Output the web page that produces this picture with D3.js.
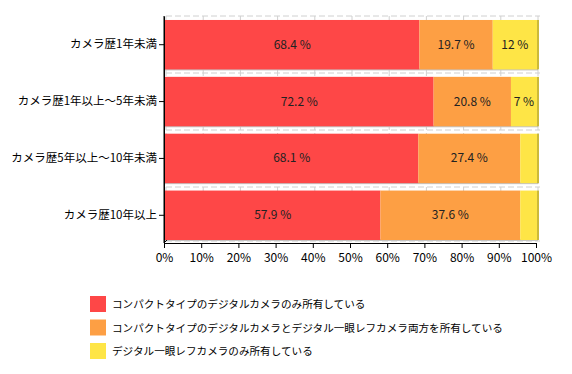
<!DOCTYPE html>
<html><head><meta charset="utf-8">
<script src="https://cdn.jsdelivr.net/npm/d3@7/dist/d3.min.js"></script>
<style>body{margin:0;background:#fff}svg{display:block}</style>
</head><body><svg id="c" width="572" height="374"></svg>
<script>
const categories = ["カメラ歴1年未満","カメラ歴1年以上～5年未満","カメラ歴5年以上～10年未満","カメラ歴10年以上"];
const seriesNames = ["コンパクトタイプのデジタルカメラのみ所有している","コンパクトタイプのデジタルカメラとデジタル一眼レフカメラ両方を所有している","デジタル一眼レフカメラのみ所有している"];
const compactOnly = [68.4, 72.2, 68.1, 57.9];
const both = [19.7, 20.8, 27.4, 37.6];
const slrOnly = [12, 7, 4.5, 4.5];
const tickValues = [0,10,20,30,40,50,60,70,80,90,100];
const colors = ["#fe4747","#fd9f44","#fee546"];

const svg = d3.select("#c");
const font = "'Noto Sans CJK JP', sans-serif";
const x = d3.scaleLinear().domain([0,100]).range([164,536]);
const y = d3.scaleBand().domain(categories).range([16,244]).paddingInner(0.13).paddingOuter(0.07);
const series = [compactOnly, both, slrOnly];

// grid
const g = svg.append("g");
[16, 16+ (244-16)/4, 16+2*(244-16)/4, 16+3*(244-16)/4, 241].forEach(v=>{
  g.append("line").attr("x1",166).attr("x2",540).attr("y1",v).attr("y2",v)
   .attr("stroke","#d0d0d0").attr("stroke-dasharray","6,3");
});
tickValues.forEach(t=>{
  g.append("line").attr("x1",x(t)+2).attr("x2",x(t)+2).attr("y1",16).attr("y2",241)
   .attr("stroke","#d0d0d0").attr("stroke-dasharray","6,3");
});

// bars
categories.forEach((c,i)=>{
  let acc = 0;
  const yy = y(c), h = y.bandwidth();
  svg.append("rect").attr("x",x(0)+1).attr("y",yy+h-1).attr("width",x(100)-x(0)+1).attr("height",2).attr("fill","#c4c4c4");
  series.forEach((s,k)=>{
    const v = s[i];
    const x0 = x(acc), x1 = x(Math.min(acc+v,100));
    svg.append("rect").attr("x",x0+1).attr("y",yy).attr("width",x1-x0).attr("height",h).attr("fill",colors[k]);
    if (v >= 5) {
      svg.append("text").attr("x",(x0+x1)/2+1).attr("y",yy+h/2+4).attr("text-anchor","middle")
        .attr("font-family",font).attr("font-size",12).attr("fill","#222").text(v+" %");
    }
    acc += v;
  });
  svg.append("rect").attr("x",x(100)+1).attr("y",yy).attr("width",2).attr("height",h).attr("fill","#cbb93a");
});

// y axis
const yAxis = d3.axisLeft(y).tickSize(5).tickSizeOuter(0);
const ya = svg.append("g").attr("transform","translate(164,0)").call(yAxis);
ya.select(".domain").attr("stroke","#000");
ya.selectAll("text").attr("font-family",font).attr("font-size",11.5).attr("fill","#000").attr("dx",1);
// x axis
const xAxis = d3.axisBottom(x).tickValues(tickValues).tickFormat(d=>d+"%").tickSize(5).tickSizeOuter(0);
const xa = svg.append("g").attr("transform","translate(0,243)").call(xAxis);
xa.select(".domain").attr("stroke","#000");
xa.selectAll("text").attr("font-family",font).attr("font-size",12).attr("fill","#000").attr("dy","0.9em");
svg.append("line").attr("x1",164).attr("y1",243).attr("x2",167).attr("y2",240).attr("stroke","#000");
svg.append("line").attr("x1",164).attr("y1",16).attr("x2",164).attr("y2",243).attr("stroke","#000");

// legend
const leg = svg.append("g");
seriesNames.forEach((n,k)=>{
  const ly = 296 + k*23.5;
  leg.append("rect").attr("x",90).attr("y",ly).attr("width",16).attr("height",16).attr("fill",colors[k]);
  leg.append("text").attr("x",112).attr("y",ly+12).attr("font-family",font).attr("font-size",10.6).attr("fill","#000").text(n);
});
</script></body></html>
